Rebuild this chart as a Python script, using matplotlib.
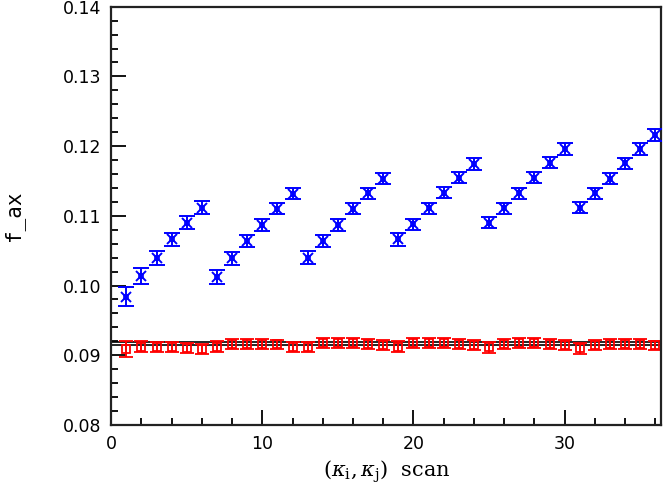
import numpy as np
import matplotlib
matplotlib.use('Agg')
import matplotlib.pyplot as plt

plt.rcParams['mathtext.fontset'] = 'dejavuserif'

scan = np.arange(1, 37)

f_ax_blue = [0.09839, 0.10136, 0.10400, 0.10663, 0.10900, 0.11116,
             0.10127, 0.10389, 0.10638, 0.10868, 0.11102, 0.11317,
             0.10400, 0.10638, 0.10868, 0.11102, 0.11320, 0.11532,
             0.10663, 0.10878, 0.11107, 0.11332, 0.11547, 0.11743,
             0.10900, 0.11107, 0.11323, 0.11547, 0.11762, 0.11958,
             0.11116, 0.11323, 0.11532, 0.11753, 0.11958, 0.12160]
err_blue = [0.0014, 0.00115, 0.0010, 0.0009, 0.0009, 0.0009,
            0.0010, 0.0009, 0.0009, 0.0009, 0.0008, 0.0008,
            0.0009, 0.0009, 0.0008, 0.0008, 0.0008, 0.0008,
            0.0009, 0.0008, 0.0008, 0.0008, 0.0008, 0.0008,
            0.0008, 0.0008, 0.0008, 0.0008, 0.0008, 0.0008,
            0.0008, 0.0008, 0.0008, 0.0008, 0.0008, 0.0008]

f_ax_red = [0.09089, 0.09122, 0.09122, 0.09120, 0.09108, 0.09085,
            0.09122, 0.09161, 0.09161, 0.09161, 0.09155, 0.09120,
            0.09120, 0.09171, 0.09171, 0.09171, 0.09161, 0.09146,
            0.09120, 0.09171, 0.09171, 0.09171, 0.09165, 0.09146,
            0.09113, 0.09160, 0.09171, 0.09171, 0.09165, 0.09146,
            0.09100, 0.09146, 0.09160, 0.09160, 0.09160, 0.09140]
err_red = [0.0012, 0.0008, 0.0007, 0.0007, 0.0007, 0.0007,
           0.0008, 0.0007, 0.0007, 0.0007, 0.0007, 0.0007,
           0.0007, 0.0007, 0.0007, 0.0007, 0.0007, 0.0007,
           0.0008, 0.0007, 0.0007, 0.0007, 0.0007, 0.0007,
           0.0008, 0.0007, 0.0007, 0.0007, 0.0007, 0.0007,
           0.0008, 0.0007, 0.0007, 0.0007, 0.0007, 0.0007]

band = [0.09148, 0.09190]

fig = plt.figure(figsize=(6.64, 4.91), dpi=100)
ax = fig.add_axes([0.1675, 0.1346, 0.8285, 0.8518])

for b in band:
    ax.axhline(b, color='black', lw=1.2, zorder=1)

ax.errorbar(scan, f_ax_red, yerr=err_red, fmt='s', color='red', mfc='none',
            ms=6, mew=1.3, elinewidth=1.4, capsize=5, capthick=1.4, zorder=2)

ax.errorbar(scan, f_ax_blue, yerr=err_blue, fmt='x', color='blue',
            ms=7, mew=1.4, elinewidth=1.4, capsize=5.8, capthick=1.4, zorder=3)
ax.plot(scan, f_ax_blue, 's', color='blue', mfc='none', ms=3.5, mew=1.2, zorder=3)

ax.set_xlim(0, 36.4)
ax.set_ylim(0.08, 0.14)
ax.set_xticks([0, 10, 20, 30])
ax.set_xticks(np.arange(0, 37, 2), minor=True)
ax.set_yticks(np.arange(0.08, 0.1401, 0.01))
ax.set_yticks(np.arange(0.08, 0.1401, 0.002), minor=True)
ax.set_yticklabels(['0.08', '0.09', '0.10', '0.11', '0.12', '0.13', '0.14'])

ax.tick_params(which='both', direction='in', width=1.3, labelsize=12.5, pad=7,
               top=False, right=False)
ax.tick_params(which='major', length=11)
ax.tick_params(which='minor', length=5)
for s in ax.spines.values():
    s.set_linewidth(1.6)
    s.set_color('#222222')

ax.set_ylabel('f_ax', family='DejaVu Sans Mono', fontsize=15, labelpad=28)
ax.set_xlabel(r'$(\kappa_\mathrm{i},\kappa_\mathrm{j})$  scan', family='DejaVu Serif',
              fontsize=15, labelpad=4)

fig.savefig('out.png', dpi=100)
